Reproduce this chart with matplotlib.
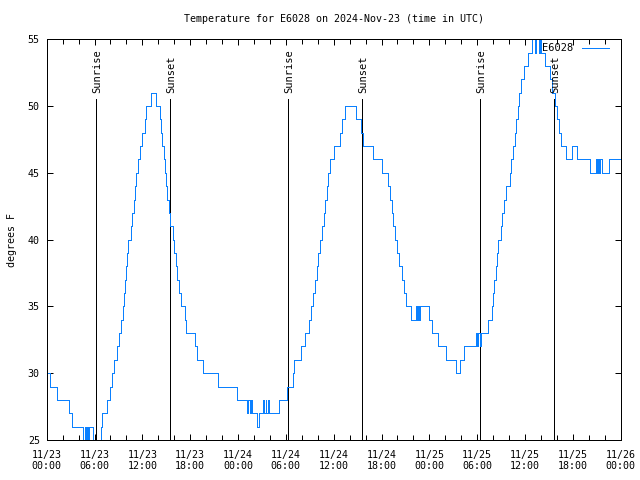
import matplotlib
matplotlib.use("Agg")
import matplotlib.pyplot as plt
from matplotlib.ticker import MultipleLocator

plt.rcParams['font.family'] = ['DejaVu Sans Mono']

# ---- data (hours since 2024-11-23 00:00 UTC, temperature changes) ----
hours = [0.0, 0.45, 1.3, 2.75, 3.15, 4.55, 4.75, 4.9, 5.05, 5.2, 5.35, 5.85,
         6.75, 6.95, 7.6, 7.9, 8.15, 8.45, 8.8, 9.1, 9.35, 9.55, 9.7, 9.82, 9.95,
         10.05, 10.2, 10.55, 10.7, 10.9, 11.05, 11.25, 11.45, 11.65, 11.9, 12.35,
         12.46, 13.1, 13.75, 14.15, 14.3, 14.5, 14.7, 14.85, 14.97, 15.14, 15.3,
         15.5, 15.8, 16.0, 16.2, 16.4, 16.6, 16.85, 17.3, 17.5, 18.6, 18.85, 19.65,
         21.45, 23.9,
         25.15, 25.3, 25.45, 25.6, 25.75, 26.4, 26.6, 27.15, 27.3, 27.45, 27.55,
         27.7, 27.85, 29.15, 30.15, 30.9, 31.05, 31.85, 32.35, 32.9, 33.15, 33.35,
         33.6, 33.85, 34.05, 34.3, 34.5, 34.75, 34.9, 35.1, 35.3, 35.5, 36.05,
         36.8, 37.0, 37.4, 38.75, 39.4, 39.7, 40.9, 42.1, 42.75, 43.1, 43.3, 43.5,
         43.7, 43.95, 44.2, 44.55, 44.8, 45.1, 45.65, 46.35, 46.45, 46.6, 46.7,
         46.85, 48.0, 48.35, 49.1, 50.1, 51.4, 51.85, 52.4, 53.8, 53.95, 54.1,
         54.3, 54.45, 55.4, 55.8, 55.95, 56.1, 56.3, 56.5, 56.62, 56.95, 57.15,
         57.35, 57.6, 58.1, 58.3, 58.5, 58.7, 58.9, 59.1, 59.25, 59.45, 59.85,
         60.35, 60.9, 61.27, 61.4, 61.75, 61.85, 62.0, 62.55, 63.1, 63.4, 63.75,
         63.95, 64.2, 64.5, 65.15, 65.95, 66.55, 68.2, 68.85, 69.0, 69.15, 69.3,
         69.45, 69.6, 70.5, 71.9]
temps = [30, 29, 28, 27, 26, 25, 26, 25, 26, 25, 26, 25,
         26, 27, 28, 29, 30, 31, 32, 33, 34, 35, 36, 37, 38,
         39, 40, 41, 42, 43, 44, 45, 46, 47, 48, 49,
         50, 51, 50, 49, 48, 47, 46, 45, 44, 43, 42,
         41, 40, 39, 38, 37, 36, 35, 34, 33, 32, 31, 30,
         29, 28,
         27, 28, 27, 28, 27, 26, 27, 28, 27, 28, 27,
         28, 27, 28, 29, 30, 31, 32, 33, 34, 35, 36,
         37, 38, 39, 40, 41, 42, 43, 44, 45, 46, 47,
         48, 49, 50, 49, 48, 47, 46, 45, 44, 43, 42,
         41, 40, 39, 38, 37, 36, 35, 34, 35, 34, 35, 34,
         35, 34, 33, 32, 31, 30, 31, 32, 33, 32, 33,
         32, 33, 34, 35, 36, 37, 38, 39, 40, 41, 42,
         43, 44, 45, 46, 47, 48, 49, 50, 51, 52, 53,
         54, 55, 54, 55, 54, 55, 54, 53, 52, 51, 50,
         49, 48, 47, 46, 47, 46, 45, 46, 45, 46, 45,
         46, 45, 46, 46]

sun_labels = ['Sunrise', 'Sunset', 'Sunrise', 'Sunset', 'Sunrise', 'Sunset']
sun_hours = [6.22, 15.51, 30.32, 39.6, 54.41, 63.69]
sun_line_top = 50.5

xtick_hours = [0, 6, 12, 18, 24, 30, 36, 42, 48, 54, 60, 66, 72]
xtick_labels = ['11/23\n00:00', '11/23\n06:00', '11/23\n12:00', '11/23\n18:00',
                '11/24\n00:00', '11/24\n06:00', '11/24\n12:00', '11/24\n18:00',
                '11/25\n00:00', '11/25\n06:00', '11/25\n12:00', '11/25\n18:00',
                '11/26\n00:00']
ytick_vals = [25, 30, 35, 40, 45, 50, 55]

series_name = 'E6028'
title = 'Temperature for E6028 on 2024-Nov-23 (time in UTC)'
ylabel = 'degrees F'

W, H = 640, 480
LW = 0.72  # one pixel at 100 dpi
fig = plt.figure(figsize=(6.4, 4.8), dpi=100)
left, right, top, bottom = 46.7, 620.7, 39.2, 440.0
ax = fig.add_axes([left / W, 1 - bottom / H, (right - left) / W, (bottom - top) / H])

ax.plot(hours, temps, drawstyle='steps-post', color='#0a80ff', lw=LW,
        label=series_name, zorder=2, antialiased=False)

for lab, h in zip(sun_labels, sun_hours):
    ax.plot([h, h], [25, sun_line_top], color='black', lw=LW, zorder=1,
            antialiased=False)
    ax.text(h + 0.15, 51.0, lab, rotation=90, ha='center', va='bottom',
            fontsize=7.5, color='black')

ax.set_xlim(0, 72)
ax.set_ylim(25, 55)
ax.set_xticks(xtick_hours)
ax.set_xticklabels(xtick_labels)
ax.xaxis.set_minor_locator(MultipleLocator(2))
ax.set_yticks(ytick_vals)
ax.tick_params(which='both', direction='in', top=True, right=True,
               width=LW, labelsize=7.2, colors='black')
ax.tick_params(which='major', length=4.5)
ax.tick_params(which='minor', length=3.5)
ax.tick_params(axis='x', pad=7)
ax.tick_params(axis='y', pad=5)
for s in ax.spines.values():
    s.set_linewidth(LW)
    s.set_zorder(3)
    s.set_antialiased(False)

leg = ax.legend(loc='upper right', bbox_to_anchor=((609 - left) / (right - left), 0.99),
                frameon=False, markerfirst=False, fontsize=7.5, handlelength=2.6,
                handletextpad=0.8, borderaxespad=0, borderpad=0)
for ln in leg.get_lines():
    ln.set_antialiased(False)

fig.text((left + right) / 2 / W, 1 - 19 / H, title, ha='center', va='center', fontsize=7.2)
fig.text(12 / W, 1 - 240 / H, ylabel, rotation=90, ha='center', va='center', fontsize=7.2)

fig.savefig('out.png', dpi=100)
